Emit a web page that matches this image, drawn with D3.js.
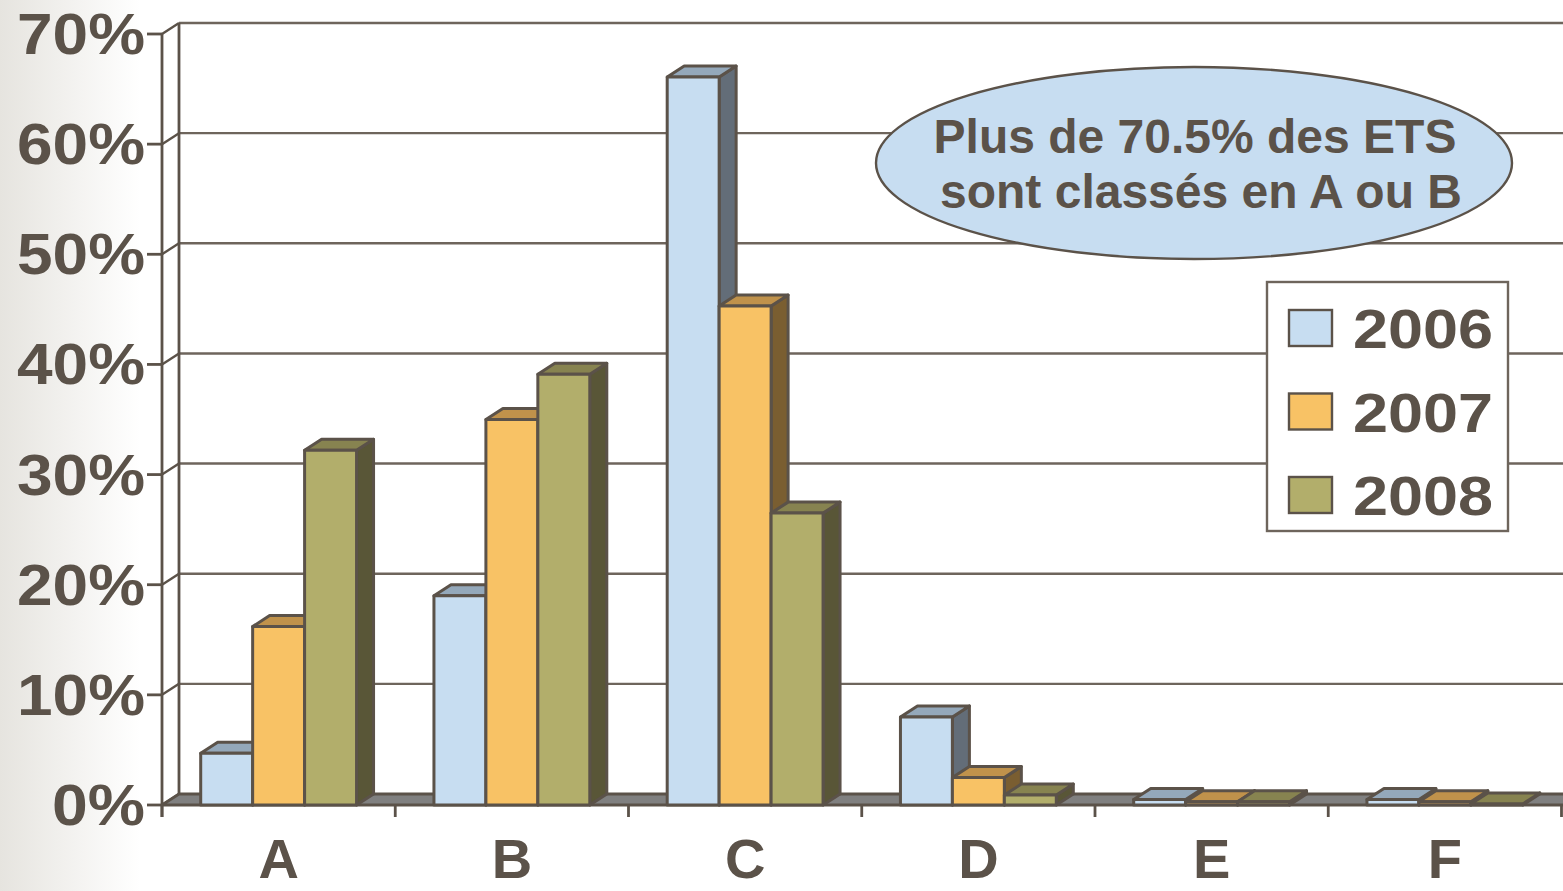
<!DOCTYPE html>
<html>
<head>
<meta charset="utf-8">
<script src="https://cdn.jsdelivr.net/npm/d3@7"></script>
<style>
  html, body { margin: 0; padding: 0; background: #fff; }
  svg { display: block; }
  text { font-family: "Liberation Sans", Arial, Helvetica, sans-serif; font-weight: bold; fill: #5b5249; }
</style>
</head>
<body>
<svg id="chart" width="1563" height="891"></svg>
<script>
// Categories and yearly shares (%)
const categories = ["A", "B", "C", "D", "E", "F"];
const years = ["2006", "2007", "2008"];
const values2006 = [4.7, 19.0, 66.1, 8.0, 0.5, 0.5];
const values2007 = [16.2, 35.0, 45.3, 2.5, 0.3, 0.3];
const values2008 = [32.2, 39.1, 26.5, 0.9, 0.3, 0.1];
const yTicks = [0, 10, 20, 30, 40, 50, 60, 70];
const yTickLabels = ["0%", "10%", "20%", "30%", "40%", "50%", "60%", "70%"];
const noteLines = ["Plus de 70.5% des ETS", "sont classés en A ou B"];

const seriesValues = [values2006, values2007, values2008];

const W = 1563, H = 891;
const ink = "#5b5249";
const faceColors = [
  { front: "#c7ddf1", top: "#94a8ba", side: "#636d78" },
  { front: "#f8c265", top: "#c0924b", side: "#7a5e31" },
  { front: "#b2ae6b", top: "#878350", side: "#595637" }
];

// depth offset of the 3D box
const dx = 17, dy = -11;

const svg = d3.select("#chart");
const defs = svg.append("defs");
const grad = defs.append("linearGradient").attr("id", "bgfade").attr("x1", 0).attr("x2", 1).attr("y1", 0).attr("y2", 0);
grad.append("stop").attr("offset", "0").attr("stop-color", "#e6e4df");
grad.append("stop").attr("offset", "1").attr("stop-color", "#ffffff");

svg.append("rect").attr("width", W).attr("height", H).attr("fill", "#fff");
svg.append("rect").attr("width", 140).attr("height", H).attr("fill", "url(#bgfade)");

const x = d3.scaleBand().domain(categories).range([162, 1561.5]).paddingInner(0).paddingOuter(0);
const xs = d3.scaleBand().domain(years).range([0, x.bandwidth()]).paddingInner(0).paddingOuter(0.745);
const y = d3.scaleLinear().domain([0, 70]).range([805, 34]);

const x0 = x.range()[0];
const xRight = W + 5;

// back wall: gridlines and the top edge
const wall = svg.append("g").attr("stroke", "#6e655c").attr("stroke-width", 2.4).attr("fill", "none");
wall.selectAll("line.grid").data(yTicks.filter(d => d > 0)).join("line")
  .attr("x1", x0 + dx).attr("x2", xRight)
  .attr("y1", d => y(d) + dy).attr("y2", d => y(d) + dy);
// back wall vertical edge
wall.append("line").attr("x1", x0 + dx).attr("x2", x0 + dx).attr("y1", y(70) + dy).attr("y2", y(0) + dy)
  .attr("stroke", ink).attr("stroke-width", 2.8);
// diagonal connectors between front axis and back wall
wall.selectAll("line.diag").data(yTicks).join("line")
  .attr("x1", x0).attr("y1", d => y(d))
  .attr("x2", x0 + dx).attr("y2", d => y(d) + dy)
  .attr("stroke", ink).attr("stroke-width", 2.4);

// floor
svg.append("path")
  .attr("d", `M${x0},${y(0)} L${x0 + dx},${y(0) + dy} L${xRight},${y(0) + dy} L${xRight},${y(0)} Z`)
  .attr("fill", "#808080").attr("stroke", ink).attr("stroke-width", 2.8).attr("stroke-linejoin", "round");

// bars, drawn left to right so each box overlaps the side of the one before it
const bars = [];
categories.forEach((c, ci) => {
  years.forEach((yr, si) => {
    bars.push({ cat: c, year: yr, si, v: seriesValues[si][ci] });
  });
});

const barG = svg.append("g").attr("stroke", ink).attr("stroke-width", 3).attr("stroke-linejoin", "round");
bars.forEach(b => {
  const bx = x(b.cat) + xs(b.year);
  const bw = xs.bandwidth();
  const yt = y(b.v), yb = y(0);
  const g = barG.append("g");
  const col = faceColors[b.si];
  g.append("path")
    .attr("d", `M${bx + bw},${yt} L${bx + bw + dx},${yt + dy} L${bx + bw + dx},${yb + dy} L${bx + bw},${yb} Z`)
    .attr("fill", col.side);
  g.append("path")
    .attr("d", `M${bx},${yt} L${bx + dx},${yt + dy} L${bx + bw + dx},${yt + dy} L${bx + bw},${yt} Z`)
    .attr("fill", col.top);
  g.append("rect")
    .attr("x", bx).attr("y", yt).attr("width", bw).attr("height", yb - yt)
    .attr("fill", col.front);
});

// front value axis
const axisG = svg.append("g").attr("stroke", ink).attr("stroke-width", 2.8);
axisG.append("line").attr("x1", x0).attr("x2", x0).attr("y1", y(70)).attr("y2", y(0) + 12);
axisG.selectAll("line.tick").data(yTicks).join("line")
  .attr("x1", x0 - 15).attr("x2", x0).attr("y1", d => y(d)).attr("y2", d => y(d));

// category axis ticks
const bounds = categories.map(c => x(c)).concat([x.range()[1]]);
axisG.selectAll("line.xtick").data(bounds).join("line")
  .attr("x1", d => d).attr("x2", d => d).attr("y1", y(0)).attr("y2", y(0) + 12);

// value labels
const yLabelWidth = d => d === 0 ? 93 : 128;
svg.append("g").selectAll("text").data(yTicks).join("text")
  .attr("x", 145).attr("y", d => y(d) + 20)
  .attr("text-anchor", "end")
  .attr("font-size", 58)
  .attr("textLength", d => yLabelWidth(d))
  .attr("lengthAdjust", "spacingAndGlyphs")
  .text((d, i) => yTickLabels[i]);

// category labels
svg.append("g").selectAll("text").data(categories).join("text")
  .attr("x", d => x(d) + x.bandwidth() / 2)
  .attr("y", 878)
  .attr("text-anchor", "middle")
  .attr("font-size", 56)
  .text(d => d);

// note bubble
const note = svg.append("g");
note.append("ellipse").attr("cx", 1194).attr("cy", 163).attr("rx", 318).attr("ry", 96)
  .attr("fill", "#c7ddf1").attr("stroke", ink).attr("stroke-width", 2.4);
note.selectAll("text").data(noteLines).join("text")
  .attr("x", (d, i) => i === 0 ? 1195 : 1201)
  .attr("y", (d, i) => 153 + i * 55)
  .attr("text-anchor", "middle")
  .attr("font-size", 48)
  .text(d => d);

// legend
const leg = svg.append("g");
leg.append("rect").attr("x", 1267).attr("y", 282).attr("width", 241).attr("height", 249)
  .attr("fill", "#fff").attr("stroke", "#6e655c").attr("stroke-width", 2.4);
years.forEach((yr, i) => {
  const ly = 310 + i * 83.5;
  leg.append("rect").attr("x", 1289).attr("y", ly).attr("width", 43).attr("height", 36)
    .attr("fill", faceColors[i].front).attr("stroke", ink).attr("stroke-width", 2.4);
  leg.append("text").attr("x", 1353).attr("y", ly + 38)
    .attr("font-size", 56)
    .attr("textLength", 140).attr("lengthAdjust", "spacingAndGlyphs")
    .text(yr);
});
</script>
</body>
</html>
